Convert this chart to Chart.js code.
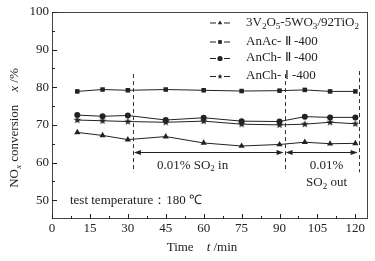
<!DOCTYPE html>
<html><head><meta charset="utf-8">
<script src="https://cdn.jsdelivr.net/npm/chart.js@4/dist/chart.umd.min.js"></script>
<style>html,body{margin:0;padding:0;background:#fff}canvas{display:block}</style>
</head><body>
<canvas id="c" width="375" height="261"></canvas>
<script>
const times = [10, 20, 30, 45, 60, 75, 90, 100, 110, 120];
const vwtValues = [68.0, 67.2, 66.1, 66.9, 65.2, 64.4, 64.8, 65.4, 65.0, 65.1];
const anacIIValues = [78.9, 79.4, 79.2, 79.4, 79.2, 79.0, 79.1, 79.3, 78.9, 78.9];
const anchIIValues = [72.6, 72.3, 72.5, 71.3, 71.9, 71.0, 70.9, 72.2, 72.0, 72.0];
const anchIValues = [71.3, 71.1, 70.9, 70.7, 71.0, 70.2, 70.0, 70.2, 70.7, 70.3];
const xTicks = [0, 15, 30, 45, 60, 75, 90, 105, 120];
const yTicks = [50, 60, 70, 80, 90, 100];
const seriesNames = ['3V_{2}O_{5}-5WO_{3}/92TiO_{2}', 'AnAc- Ⅱ -400', 'AnCh- Ⅱ -400', 'AnCh- Ⅰ -400'];
const so2Lines = [32, 92, 121.3];
const so2LineRange = [57.4, 83.5];
const arrowLevel = 62.8;

const FONT = '"Liberation Serif", "Times New Roman", serif';
const INK = '#222';

function starImg(r) {
  const c = document.createElement('canvas');
  c.width = c.height = r * 2 + 2;
  const g = c.getContext('2d');
  g.fillStyle = INK;
  g.beginPath();
  for (let i = 0; i < 10; i++) {
    const rr = i % 2 ? r * 0.42 : r;
    const a = -Math.PI / 2 + i * Math.PI / 5;
    const px = r + 1 + rr * Math.cos(a), py = r + 1 + rr * Math.sin(a);
    i ? g.lineTo(px, py) : g.moveTo(px, py);
  }
  g.closePath(); g.fill();
  return c;
}
const star = starImg(4);

function mk(vals) { return times.map((t, i) => ({x: t, y: vals[i]})); }
function ds(label, vals, style, r) {
  return {label, data: mk(vals), showLine: true, borderColor: INK, borderWidth: 1,
    backgroundColor: INK, pointBackgroundColor: INK, pointBorderColor: INK, pointBorderWidth: 0,
    pointStyle: style, pointRadius: r, tension: 0};
}

function parseRich(s) {
  const out = []; let re = /_\{([^}]*)\}/g, last = 0, m;
  while ((m = re.exec(s))) { if (m.index > last) out.push({t: s.slice(last, m.index)}); out.push({t: m[1], sub: true}); last = re.lastIndex; }
  if (last < s.length) out.push({t: s.slice(last)});
  return out;
}
function richWidth(ctx, parts, size) {
  let w = 0;
  for (const p of parts) { ctx.font = (p.i ? 'italic ' : '') + (p.sub ? size * 0.7 : size) + 'px ' + FONT; w += ctx.measureText(p.t).width; }
  return w;
}
function drawRich(ctx, parts, x, y, size, align) {
  ctx.textBaseline = 'middle'; ctx.textAlign = 'left';
  let w = richWidth(ctx, parts, size);
  let cx = align === 'center' ? x - w / 2 : x;
  for (const p of parts) {
    ctx.font = (p.i ? 'italic ' : '') + (p.sub ? size * 0.7 : size) + 'px ' + FONT;
    ctx.fillText(p.t, cx, p.sub ? y + size * 0.3 : y);
    cx += ctx.measureText(p.t).width;
  }
}
function arrowHead(ctx, x, y, dir) {
  ctx.beginPath(); ctx.moveTo(x, y); ctx.lineTo(x - dir * 7, y - 2.5); ctx.lineTo(x - dir * 7, y + 2.5); ctx.closePath(); ctx.fill();
}

const deco = {
  id: 'deco',
  afterDraw(chart) {
    const {ctx, chartArea: a, scales: {x, y}} = chart;
    ctx.save();
    ctx.strokeStyle = '#444'; ctx.lineWidth = 1;
    ctx.strokeRect(a.left + 0.5, a.top + 0.5, a.right - a.left - 1, a.bottom - a.top - 1);
    ctx.strokeStyle = INK;
    ctx.beginPath();
    for (let v = 0; v <= 120; v += 7.5) {
      const px = Math.round(x.getPixelForValue(v)) + 0.5, len = (v % 15 === 0) ? 5 : 3;
      ctx.moveTo(px, a.bottom); ctx.lineTo(px, a.bottom - len);
    }
    for (let v = 50; v <= 100; v += 5) {
      const py = Math.round(y.getPixelForValue(v)) + 0.5, len = (v % 10 === 0) ? 5 : 3;
      ctx.moveTo(a.left, py); ctx.lineTo(a.left + len, py);
    }
    ctx.stroke();
    ctx.setLineDash([4, 3]); ctx.strokeStyle = '#333';
    ctx.beginPath();
    so2Lines.forEach((t, i) => {
      const px = Math.round(x.getPixelForValue(t)) + 0.5;
      ctx.moveTo(px, y.getPixelForValue(i === 2 ? so2LineRange[1] + 0.8 : so2LineRange[1]));
      ctx.lineTo(px, y.getPixelForValue(so2LineRange[0]));
    });
    ctx.stroke(); ctx.setLineDash([]);
    const ay = Math.round(y.getPixelForValue(arrowLevel)) + 0.5;
    ctx.fillStyle = INK; ctx.strokeStyle = INK;
    for (let k = 0; k < 2; k++) {
      const x1 = x.getPixelForValue(so2Lines[k]) + 1, x2 = x.getPixelForValue(so2Lines[k + 1]) - 1;
      ctx.beginPath(); ctx.moveTo(x1 + 3, ay); ctx.lineTo(x2 - 3, ay); ctx.stroke();
      arrowHead(ctx, x1, ay, -1); arrowHead(ctx, x2, ay, 1);
    }
    ctx.fillStyle = INK;
    drawRich(ctx, parseRich('0.01% SO_{2} in'), x.getPixelForValue(55.6), y.getPixelForValue(59.3), 13, 'center');
    drawRich(ctx, parseRich('0.01%'), x.getPixelForValue(108.6), y.getPixelForValue(59.3), 13, 'center');
    drawRich(ctx, parseRich('SO_{2} out'), x.getPixelForValue(108.6), y.getPixelForValue(54.7), 13, 'center');
    drawRich(ctx, [{t: 'test temperature：180 ℃'}], x.getPixelForValue(7.1), y.getPixelForValue(50), 13, 'left');
    const markers = ['triangle', 'rect', 'circle', star];
    const rows = [22.5, 41.5, 58, 76];
    rows.forEach((ry, i) => {
      ctx.strokeStyle = INK; ctx.lineWidth = 1;
      ctx.beginPath(); ctx.moveTo(210, ry + 0.5); ctx.lineTo(216, ry + 0.5); ctx.moveTo(224, ry + 0.5); ctx.lineTo(230, ry + 0.5); ctx.stroke();
      ctx.fillStyle = INK;
      if (markers[i] === star) { const s = 7; ctx.drawImage(star, 220 - s / 2, ry + 0.5 - s / 2, s, s); }
      else Chart.helpers.drawPoint(ctx, {pointStyle: markers[i], radius: 2.6, borderWidth: 0}, 220, ry + 0.5);
      drawRich(ctx, parseRich(seriesNames[i]), 246, ry, 13, 'left');
    });
    ctx.save();
    ctx.translate(15, 128); ctx.rotate(-Math.PI / 2);
    drawRich(ctx, [{t: 'NO'}, {t: 'x', sub: true, i: true}, {t: ' conversion    '}, {t: 'x', i: true}, {t: ' /%'}], 0, 0, 13, 'center');
    ctx.restore();
    drawRich(ctx, [{t: 'Time    '}, {t: 't', i: true}, {t: ' /min'}], 202, 248, 13, 'center');
    ctx.restore();
  }
};

new Chart(document.getElementById('c'), {
  type: 'scatter',
  data: {datasets: [
    ds(seriesNames[0], vwtValues, 'triangle', 3.6),
    ds(seriesNames[1], anacIIValues, 'rect', 3.2),
    ds(seriesNames[2], anchIIValues, 'circle', 3),
    ds(seriesNames[3], anchIValues, star, 4)
  ]},
  options: {
    responsive: false, animation: false, devicePixelRatio: 1,
    layout: {padding: {left: 0, right: 7, top: 12, bottom: 0}},
    plugins: {legend: {display: false}, tooltip: {enabled: false}},
    scales: {
      x: {type: 'linear', min: 0, max: 125,
        afterBuildTicks: s => { s.ticks = xTicks.map(v => ({value: v})); },
        afterFit: s => { s.height = 42; },
        grid: {display: false, drawTicks: false, tickLength: 0}, border: {display: false},
        ticks: {color: INK, font: {family: FONT, size: 13}, padding: 2, maxRotation: 0, autoSkip: false}},
      y: {type: 'linear', min: 45, max: 100,
        afterBuildTicks: s => { s.ticks = yTicks.map(v => ({value: v})); },
        afterFit: s => { s.width = 52; },
        grid: {display: false, drawTicks: false, tickLength: 0}, border: {display: false},
        ticks: {color: INK, font: {family: FONT, size: 13}, padding: 3}}
    }
  },
  plugins: [deco]
});
</script>
</body></html>
